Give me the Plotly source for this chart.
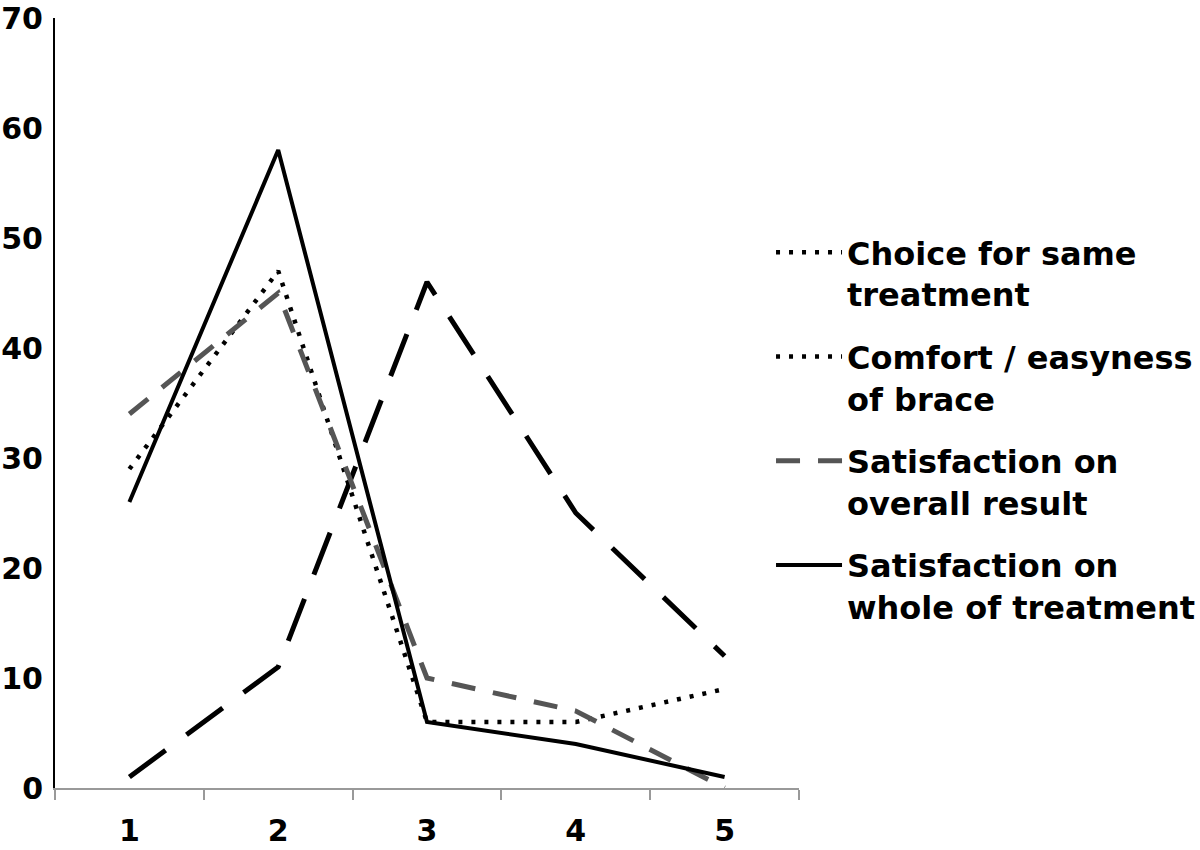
import plotly.graph_objects as go

categories = ["1", "2", "3", "4", "5"]
choice_same = [29, 47, 6, 6, 9]
comfort_brace = [1, 11, 46, 25, 12]
overall_result = [34, 45, 10, 7, 0]
whole_treatment = [26, 58, 6, 4, 1]
y_ticks = [0, 10, 20, 30, 40, 50, 60, 70]

names = [
    "Choice for same<br>treatment",
    "Comfort / easyness<br>of brace",
    "Satisfaction on<br>overall result",
    "Satisfaction on<br>whole of treatment",
]

FONT = "DejaVu Sans, Liberation Sans, Arial, sans-serif"

fig = go.Figure()
fig.add_trace(go.Scatter(x=categories, y=choice_same, mode="lines", name=names[0],
                         legendgroup="g1",
                         line=dict(color="black", width=4.5, dash="4px,9px")))
# long-dash series (legend shows it dotted in the reference)
fig.add_trace(go.Scatter(x=categories, y=comfort_brace, mode="lines", name=names[1],
                         legendgroup="g2", showlegend=False,
                         line=dict(color="black", width=5, dash="45px,26px")))
fig.add_trace(go.Scatter(x=[None], y=[None], mode="lines", name=names[1],
                         legendgroup="g2",
                         line=dict(color="black", width=4.5, dash="4px,9px")))
fig.add_trace(go.Scatter(x=categories, y=overall_result, mode="lines", name=names[2],
                         legendgroup="g3",
                         line=dict(color="#555555", width=5, dash="24px,18px")))
fig.add_trace(go.Scatter(x=categories, y=whole_treatment, mode="lines", name=names[3],
                         legendgroup="g4",
                         line=dict(color="black", width=4)))

fig.update_layout(
    width=1200, height=850,
    paper_bgcolor="white", plot_bgcolor="white",
    margin=dict(l=55, r=401, t=18, b=62, autoexpand=False),
    font=dict(family=FONT, color="black"),
    showlegend=True,
    legend=dict(
        x=0.9624, xanchor="left", y=0.7312, yanchor="top",
        font=dict(size=32, weight="bold", color="black", family=FONT),
        itemwidth=66, valign="top",
        traceorder="grouped", tracegroupgap=18,
        bgcolor="rgba(0,0,0,0)",
    ),
    xaxis=dict(
        type="category", range=[-0.5, 4.5], automargin=False,
        showline=True, linecolor="#999999", linewidth=2,
        ticks="outside", tickson="boundaries", ticklen=10, tickcolor="#999999", tickwidth=2,
        tickfont=dict(size=30, weight="bold", family=FONT),
        ticklabelstandoff=15,
        showgrid=False, zeroline=False,
    ),
    yaxis=dict(
        range=[0, 70], tickvals=y_ticks, automargin=False,
        showline=True, linecolor="black", linewidth=2,
        ticks="", tickfont=dict(size=30, weight="bold", family=FONT),
        ticklabelstandoff=4,
        showgrid=False, zeroline=False,
    ),
)

fig.write_html("out.html", config={"displayModeBar": False},
               post_script="document.body.style.margin='0';")
